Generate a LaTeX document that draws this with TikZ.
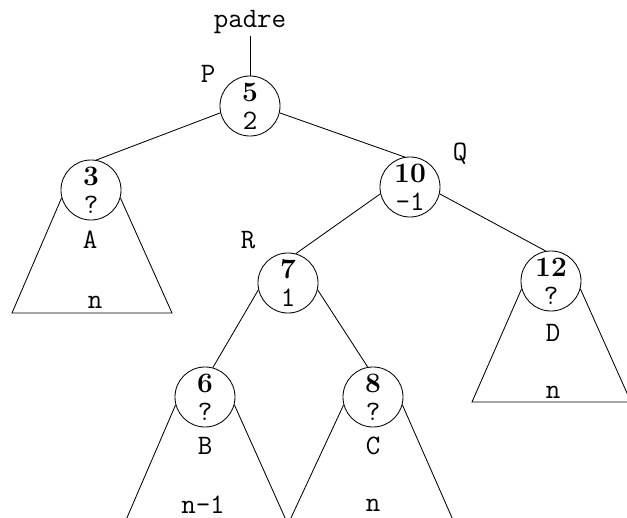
\documentclass[tikz,border=0pt]{standalone}
\usetikzlibrary{positioning}

\newcommand{\keyval}[1]{{\rmfamily\bfseries #1}}

\begin{document}
\begin{tikzpicture}[
    x=0.025cm, y=-0.025cm,
    line width=0.6pt,
    font=\ttfamily\fontsize{20}{20}\selectfont,
    avl/.style={draw, circle, minimum size=1.5cm, inner sep=0pt, align=center},
    tag/.style={inner sep=1pt},
]
\clip (0,0) rectangle (627,518);

% ---- tree nodes (key / balance) ----
\node[avl] (p)   at (250,106) {\keyval{5}\\2};
\node[avl] (n3)  at (91,190)  {\keyval{3}\\?};
\node[avl] (q)   at (410,187) {\keyval{10}\\-1};
\node[avl] (r)   at (288,283) {\keyval{7}\\1};
\node[avl] (n12) at (551,281) {\keyval{12}\\?};
\node[avl] (n6)  at (205,397) {\keyval{6}\\?};
\node[avl] (n8)  at (373,397) {\keyval{8}\\?};

% ---- names ----
\node[tag] (padre) at (250,22) {padre};
\node[tag] (lp) at (208,74)  {P};
\node[tag] (lq) at (460,154) {Q};
\node[tag] (lr) at (248,240) {R};

% ---- branches ----
\draw (padre) -- (p);
\draw (p.193) -- (n3.80);
\draw (p.347) -- (q.100);
\draw (q.193) -- (r.75);
\draw (q.347) -- (n12.100);
\draw (r.193) -- (n6.75);
\draw (r.347) -- (n8.100);

% ---- subtrees ----
\draw (n3.195) -- (12,313) -- (172,313) -- (n3.345);
\draw (n12.195) -- (472,402) -- (631,402) -- (n12.345);
\draw (n6.195) -- (126,520);
\draw (n6.345) -- (286,520);
\draw (n8.195) -- (290,520);
\draw (n8.345) -- (453,520);

\node[tag] (la) at (90,240)  {A};
\node[tag] (lb) at (205,446) {B};
\node[tag] (lc) at (373,446) {C};
\node[tag] (ld) at (553,333) {D};

\node[tag] (ha) at (95,302)  {n};
\node[tag] (hb) at (203,505) {n-1};
\node[tag] (hc) at (373,505) {n};
\node[tag] (hd) at (553,392) {n};

\end{tikzpicture}
\end{document}
